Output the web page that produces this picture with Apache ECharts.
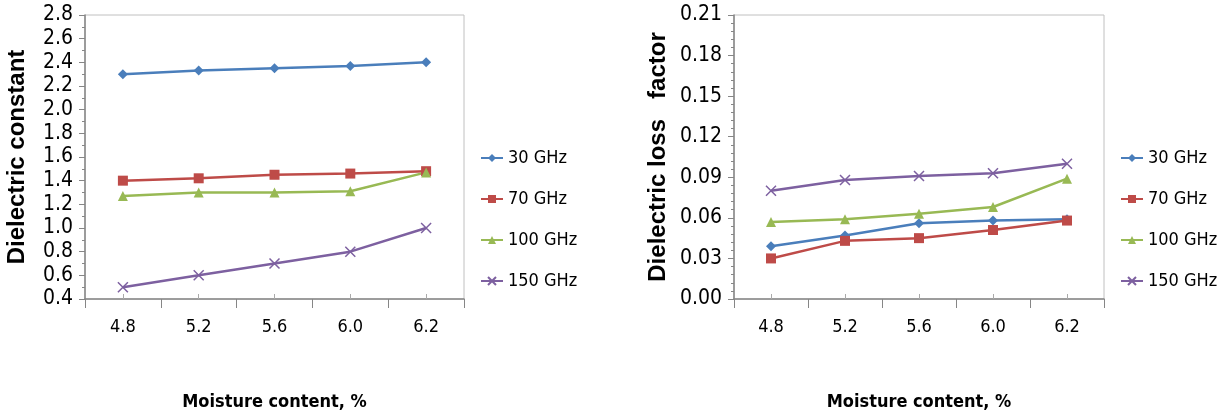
<!DOCTYPE html>
<html>
<head>
<meta charset="utf-8">
<script src="https://cdn.jsdelivr.net/npm/echarts@6/dist/echarts.min.js"></script>
<style>
  html, body { margin: 0; padding: 0; background: #fff; }
</style>
</head>
<body>
<div id="chart" style="width: 1228px; height: 418px;"></div>
<script>
const categories = ['4.8', '5.2', '5.6', '6.0', '6.2']
const seriesNames = ['30 GHz', '70 GHz', '100 GHz', '150 GHz']

// dielectric constant
const eps30 = [2.30, 2.33, 2.35, 2.37, 2.40]
const eps70 = [1.40, 1.42, 1.45, 1.46, 1.48]
const eps100 = [1.27, 1.30, 1.30, 1.31, 1.47]
const eps150 = [0.50, 0.60, 0.70, 0.80, 1.00]

// dielectric loss factor
const loss30 = [0.039, 0.047, 0.056, 0.058, 0.059]
const loss70 = [0.030, 0.043, 0.045, 0.051, 0.058]
const loss100 = [0.057, 0.059, 0.063, 0.068, 0.089]
const loss150 = [0.080, 0.088, 0.091, 0.093, 0.100]

const epsAxis = { min: 0.4, max: 2.8, interval: 0.2, digits: 1 }
const lossAxis = { min: 0, max: 0.21, interval: 0.03, digits: 2 }

const colorBoard = ['#4A7EBB', '#BE4B48', '#98B954', '#7D60A0']
const symbols = ['diamond', 'rect', 'triangle', 'path://M0,0L10,10M10,0L0,10']
const symbolSizes = [10, 10, 10, 10]

const narrow = "'Liberation Sans Narrow', 'DejaVu Sans Condensed', sans-serif"
const axisGray = '#868686'

function makeSeries(list, gridIndex) {
  return list.map((data, i) => ({
    name: seriesNames[i],
    type: 'line',
    xAxisIndex: gridIndex * 2,
    yAxisIndex: gridIndex,
    symbol: symbols[i],
    symbolSize: symbolSizes[i],
    showAllSymbol: true,
    lineStyle: { color: colorBoard[i], width: 2.5 },
    itemStyle: {
      color: colorBoard[i],
      borderColor: colorBoard[i],
      borderWidth: i === 3 ? 1.5 : 0,
    },
    data: data,
  }))
}

function xAxes(gridIndex) {
  return [
    {
      gridIndex: gridIndex,
      type: 'category',
      data: categories,
      boundaryGap: true,
      name: 'Moisture content, %',
      nameLocation: 'middle',
      nameGap: 94,
      nameTextStyle: { fontFamily: narrow, fontSize: 18, fontWeight: 'bold', color: '#000' },
      axisLine: { lineStyle: { color: axisGray, width: 1.5 } },
      axisTick: { show: true, length: 9, lineStyle: { color: axisGray } },
      axisLabel: { margin: 19, fontFamily: narrow, fontSize: 18, color: '#000' },
      splitLine: { show: false },
    },
    {
      // small marks at the category centres
      gridIndex: gridIndex,
      type: 'category',
      data: categories,
      position: 'bottom',
      axisLine: { show: false },
      axisTick: { show: true, inside: true, alignWithLabel: true, length: 5, lineStyle: { color: '#aaa' } },
      axisLabel: { show: false },
      splitLine: { show: false },
    },
  ]
}

function yAxis(gridIndex, cfg, title, gap) {
  return {
    gridIndex: gridIndex,
    type: 'value',
    min: cfg.min,
    max: cfg.max,
    interval: cfg.interval,
    name: title,
    nameLocation: 'middle',
    nameRotate: 90,
    nameGap: gap,
    nameTextStyle: { fontSize: 24, fontWeight: 'bold', color: '#000' },
    axisLine: { show: true, lineStyle: { color: axisGray, width: 1.5 } },
    axisTick: { show: true, length: 6, lineStyle: { color: axisGray } },
    minorTick: { show: true, splitNumber: cfg.digits === 1 ? 2 : 5, length: 3, lineStyle: { color: axisGray } },
    axisLabel: {
      margin: 12,
      fontFamily: narrow,
      fontSize: 21,
      color: '#000',
      formatter: (v) => v.toFixed(cfg.digits),
    },
    splitLine: { show: false },
  }
}

function legend(left) {
  return {
    orient: 'vertical',
    left: left,
    top: 149,
    padding: 0,
    itemWidth: 22,
    itemHeight: 10,
    itemGap: 23,
    textStyle: { fontFamily: narrow, fontSize: 18, color: '#000' },
    data: seriesNames,
  }
}

const myChart = echarts.init(document.getElementById('chart'))

const option = {
  animation: false,
  backgroundColor: '#fff',
  grid: [
    { left: 85, top: 15, width: 379, height: 284, show: true, borderColor: '#c0c0c0', borderWidth: 1 },
    { left: 734, top: 15, width: 370, height: 284, show: true, borderColor: '#c0c0c0', borderWidth: 1 },
  ],
  legend: [
    legend(480),
    legend(1120),
  ],
  xAxis: xAxes(0).concat(xAxes(1)),
  yAxis: [
    yAxis(0, epsAxis, 'Dielectric constant', 56),
    yAxis(1, lossAxis, 'Dielectric loss   factor', 64),
  ],
  series: makeSeries([eps30, eps70, eps100, eps150], 0)
    .concat(makeSeries([loss30, loss70, loss100, loss150], 1)),
}

myChart.setOption(option)
</script>
</body>
</html>
